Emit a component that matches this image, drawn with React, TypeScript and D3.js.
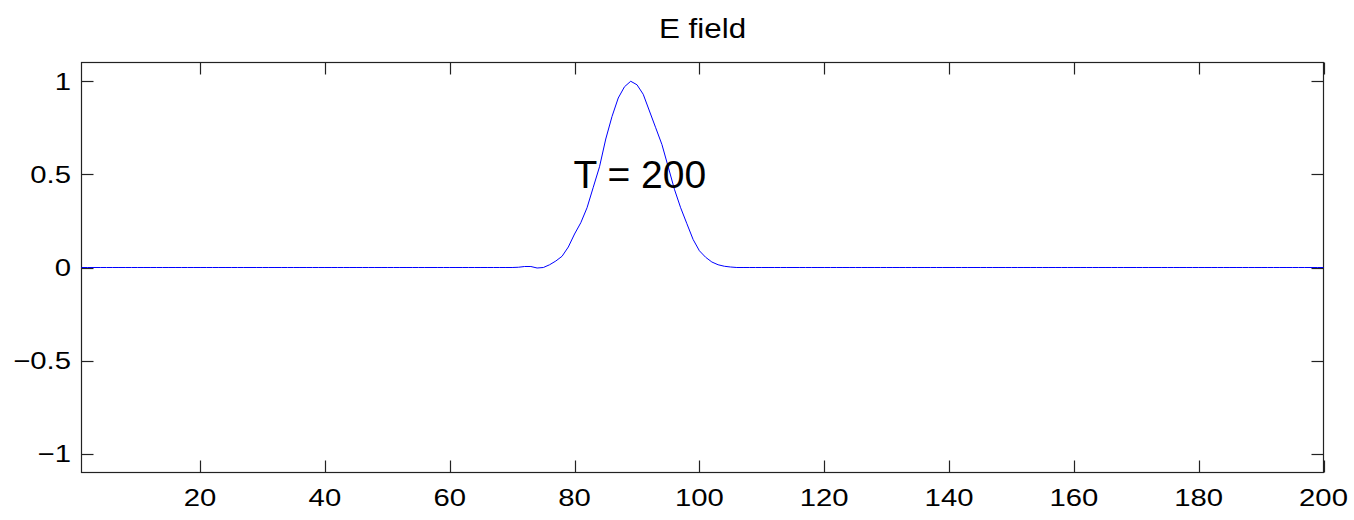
import React, { useEffect, useRef } from "react";
import * as d3 from "d3";

const TITLE = "E field";
const ANNOTATION = "T = 200";
const X_DOMAIN: [number, number] = [1, 200];
const Y_DOMAIN: [number, number] = [-1.1, 1.1];
const X_TICKS = [20, 40, 60, 80, 100, 120, 140, 160, 180, 200];
const Y_TICKS = [-1, -0.5, 0, 0.5, 1];
const Y_TICK_LABELS = ["\u22121", "\u22120.5", "0", "0.5", "1"];

// Pulse values for x = 70 .. 106 (zero elsewhere)
const PULSE_START = 70;
const PULSE_VALUES = [
  0.0, 0.002, 0.005, 0.006, -0.003, 0.0, 0.015, 0.035, 0.06, 0.11,
  0.18, 0.24, 0.32, 0.43, 0.54, 0.69, 0.81, 0.91, 0.97, 1.0,
  0.98, 0.93, 0.84, 0.75, 0.66, 0.54, 0.42, 0.32, 0.235, 0.15,
  0.09, 0.055, 0.03, 0.015, 0.007, 0.003, 0.0,
];
const X_VALUES = d3.range(1, 201);
const E_VALUES = X_VALUES.map((x) => {
  const i = x - PULSE_START;
  return i >= 0 && i < PULSE_VALUES.length ? PULSE_VALUES[i] : 0;
});

const W = 1354;
const H = 520;
const L = 81.5, R = 1323.5, T = 62.5, B = 472.5;

export default function App() {
  const ref = useRef<SVGSVGElement>(null);
  useEffect(() => {
    document.body.style.margin = "0";
    const svg = d3.select(ref.current!);
    svg.selectAll("*").remove();
    const x = d3.scaleLinear().domain(X_DOMAIN).range([L, R]);
    const y = d3.scaleLinear().domain(Y_DOMAIN).range([B, T]);
    const font = "'Liberation Sans', Arial, Helvetica, sans-serif";

    svg.append("rect").attr("width", W).attr("height", H).attr("fill", "#fff");

    // box
    svg
      .append("rect")
      .attr("x", L)
      .attr("y", T)
      .attr("width", R - L)
      .attr("height", B - T)
      .attr("fill", "none")
      .attr("stroke", "#222")
      .attr("stroke-width", 1.2);

    const tl = 12;
    const g = svg.append("g").attr("stroke", "#222").attr("stroke-width", 1.2);
    X_TICKS.forEach((t) => {
      const px = Math.round(x(t)) + 0.5;
      g.append("line").attr("x1", px).attr("x2", px).attr("y1", B).attr("y2", B - tl);
      g.append("line").attr("x1", px).attr("x2", px).attr("y1", T).attr("y2", T + tl);
    });
    Y_TICKS.forEach((t) => {
      const py = Math.round(y(t)) + 0.5;
      g.append("line").attr("x1", L).attr("x2", L + tl).attr("y1", py).attr("y2", py);
      g.append("line").attr("x1", R).attr("x2", R - tl).attr("y1", py).attr("y2", py);
    });

    // data line (on top of ticks)
    const line = d3
      .line<number>()
      .x((_, i) => x(X_VALUES[i]))
      .y((d) => Math.round(y(d) * 4) / 4);
    svg
      .append("path")
      .datum(E_VALUES)
      .attr("d", line)
      .attr("fill", "none")
      .attr("stroke", "#0000ff")
      .attr("stroke-width", 1);

    // x tick labels
    X_TICKS.forEach((t) => {
      svg
        .append("text")
        .attr("transform", `translate(${x(t)},${505.5}) scale(1.22,1)`)
        .attr("text-anchor", "middle")
        .attr("font-family", font)
        .attr("font-size", 24)
        .attr("fill", "#000")
        .text(String(t));
    });
    // y tick labels
    Y_TICKS.forEach((t, i) => {
      svg
        .append("text")
        .attr("transform", `translate(71,${y(t) + 8.5}) scale(1.22,1)`)
        .attr("text-anchor", "end")
        .attr("font-family", font)
        .attr("font-size", 24)
        .attr("fill", "#000")
        .text(Y_TICK_LABELS[i]);
    });

    // title
    svg
      .append("text")
      .attr("transform", `translate(${(L + R) / 2},38) scale(1.12,1)`)
      .attr("text-anchor", "middle")
      .attr("font-family", font)
      .attr("font-size", 28)
      .attr("fill", "#000")
      .text(TITLE);

    // annotation
    svg
      .append("text")
      .attr("x", x(80) - 1)
      .attr("y", y(0.5) + 13.5)
      .attr("font-family", font)
      .attr("font-size", 39)
      .attr("fill", "#000")
      .text(ANNOTATION);
  }, []);

  return (
    <svg
      ref={ref}
      width={W}
      height={H}
      style={{ display: "block", position: "absolute", left: 0, top: 0 }}
    />
  );
}
